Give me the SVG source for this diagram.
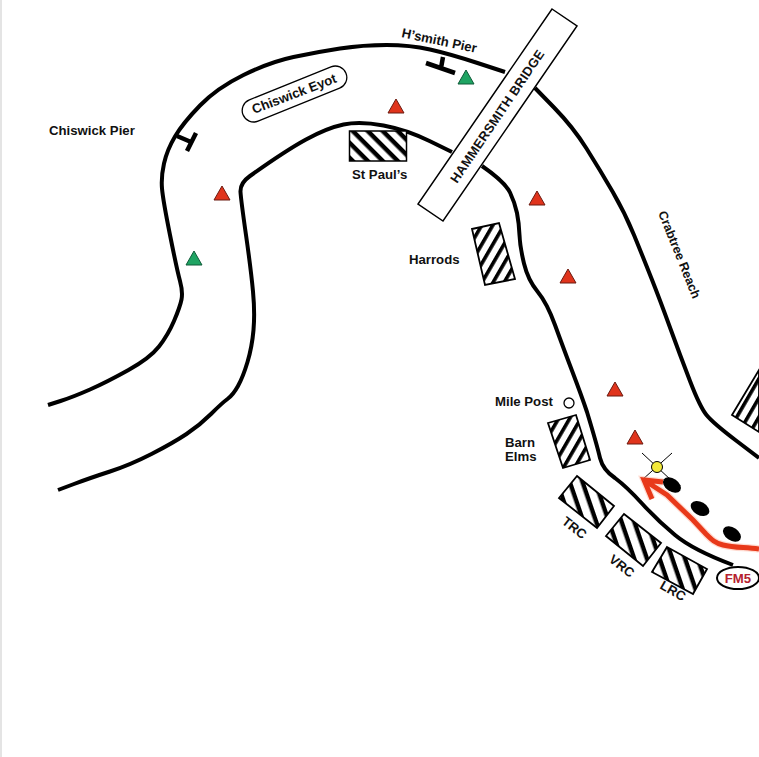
<svg xmlns="http://www.w3.org/2000/svg" width="759" height="757" viewBox="0 0 759 757">
<style>
text{font-family:"Liberation Sans",Arial,sans-serif;font-weight:bold;font-size:13.2px;fill:#111}
.bank{fill:none;stroke:#000;stroke-width:4;stroke-linecap:butt;stroke-linejoin:round}
.red{fill:#e0341c;stroke:#6b1a10;stroke-width:1}
.green{fill:#1fa463;stroke:#0e5a38;stroke-width:1}
.t{stroke:#000;stroke-width:4.500;fill:none}
.b{stroke:#000;stroke-width:1.8}
</style>
<defs>
<pattern id="h1" width="10.6" height="10.6" patternUnits="userSpaceOnUse" patternTransform="rotate(45)"><rect width="10.6" height="10.6" fill="#fff"/><rect width="10.6" height="4.4" fill="#000"/></pattern>
<pattern id="h2" width="9.6" height="9.6" patternUnits="userSpaceOnUse" patternTransform="rotate(-60)"><rect width="9.6" height="9.6" fill="#fff"/><rect width="9.6" height="3.6" fill="#000"/></pattern>
<pattern id="h3" width="12" height="12" patternUnits="userSpaceOnUse" patternTransform="rotate(71)"><rect width="12" height="12" fill="#fff"/><rect width="12" height="4.4" fill="#000"/></pattern>
</defs>
<rect width="759" height="757" fill="#fff"/>
<rect width="2" height="757" fill="#e4e4e4"/>
<g id="connectors">
<path class="bank" d="M48 405L60.500 401Q73 397 90 389.500Q107 382 128.500 370Q150 358 159 346.500Q168 335 174 321Q180 307 181.500 299.500Q183 292 180 281Q177 270 170 235Q163 200 162 188.500Q161 177 164 163.500Q167 150 175 136.500Q183 123 200 105.500Q217 88 243.500 75Q270 62 293.500 57Q317 52 340 48.500Q363 45 386.500 45Q410 45 430 49.500Q450 54 477.500 63L505 72"/>
<path class="bank" d="M535 88L554 107.500Q573 127 586.500 148.500Q600 170 612.500 191.500Q625 213 634 235Q643 257 651.500 278.500Q660 300 670 327.500Q680 355 690 381Q700 407 706.500 415Q713 423 736 440.500L759 458"/>
<path class="bank" d="M58 490L74 484Q90 478 110 471.500Q130 465 151.500 454Q173 443 186.500 434Q200 425 211 414Q222 403 227.500 399Q233 395 238 386Q243 377 247.500 362Q252 347 253.500 330Q255 313 253 291.500Q251 270 246 235Q241 200 240.500 192Q240 183 250 176Q285 151 306 139.500Q327 128 343.500 124.500Q360 121 383.500 125.500Q407 130 429.500 141L452 152"/>
<path class="bank" d="M482 166Q505 182 510 192.500Q515 203 517 213Q519 223 519.500 235Q520 247 524 263.500Q528 280 537.500 291.500Q547 303 555 325Q563 347 572.500 372Q582 397 587 412Q597 445 600 458Q603 470 615 478Q627 487 642 503.500Q657 520 675 535Q693 550 733 565"/>
</g>
<g id="bridge">
<polygon points="552,9 577,26 443,221 418,204" fill="#fff" stroke="#000" stroke-width="1.5"/>
<text transform="translate(457,184) rotate(-56)" textLength="157" style="font-size:13px">HAMMERSMITH BRIDGE</text>
</g>
<g id="chiswick-eyot">
<rect x="239" y="82.500" width="111" height="23" rx="11.500" transform="rotate(-22 294.500 94)" fill="#fff" stroke="#000" stroke-width="1.300"/>
<text transform="translate(254,114) rotate(-21)">Chiswick Eyot</text>
</g>
<g id="chiswick-pier"><text x="49" y="135">Chiswick Pier</text><path class="t" d="M196 133L187 151M177 136L191 142"/></g>
<g id="hsmith-pier"><text transform="translate(401,37) rotate(12)">H’smith Pier</text><path class="t" d="M426 63L455 73M443 57L441 68"/></g>
<g id="st-pauls"><rect x="349.500" y="131" width="57" height="30" fill="url(#h1)" stroke="#000" stroke-width="1.500"/><text x="352" y="179">St Paul’s</text></g>
<g id="harrods"><polygon points="472,229 499,223 515,279 485,285" fill="url(#h2)" class="b"/><text x="409" y="264">Harrods</text></g>
<g id="crabtree-reach"><text transform="translate(658,213) rotate(68)" style="font-size:12.6px">Crabtree Reach</text></g>
<g id="mile-post"><text x="495" y="406">Mile Post</text><circle cx="569" cy="403" r="5" fill="#fff" stroke="#000" stroke-width="1.300"/></g>
<g id="barn-elms"><polygon points="548,423 576,415 590,460 563,468" fill="url(#h2)" class="b"/><text x="505" y="447">Barn</text><text x="505" y="461">Elms</text></g>
<g id="right-building"><polygon points="732,415 759,370 759,432" fill="url(#h2)" class="b"/></g>
<g id="trc"><polygon points="577,476 614,506 597,528 559,498" fill="url(#h3)" class="b"/><text transform="translate(561,523) rotate(38)">TRC</text></g>
<g id="vrc"><polygon points="624,514 661,543 643,566 606,536" fill="url(#h3)" class="b"/><text transform="translate(608,561) rotate(38)">VRC</text></g>
<g id="lrc"><polygon points="667,547 707,569 693,594 652,572" fill="url(#h3)" class="b"/><text transform="translate(659,588) rotate(30)">LRC</text></g>
<g id="markers">
<polygon class="red" points="396,99 404,113 388,113"/>
<polygon class="red" points="222,186 230,200 214,200"/>
<polygon class="red" points="537,191 545,205 529,205"/>
<polygon class="red" points="568,269 576,283 560,283"/>
<polygon class="red" points="615,382 623,396 607,396"/>
<polygon class="red" points="635,430 643,444 627,444"/>
<polygon class="green" points="466,70 474,84 458,84"/>
<polygon class="green" points="194,251 202,265 186,265"/>
</g>
<g id="start-buoy">
<path d="M642 453L672 481M672 453L642 480" stroke="#000" stroke-width="1"/>
<circle cx="657" cy="467" r="5.500" fill="#f2e93a" stroke="#000" stroke-width="1"/>
</g>
<g id="boats">
<ellipse cx="672" cy="485" rx="10" ry="6.500" transform="rotate(35 672 485)"/>
<ellipse cx="700" cy="508.500" rx="10" ry="6.500" transform="rotate(30 700 508.500)"/>
<ellipse cx="732" cy="534" rx="10" ry="6.500" transform="rotate(35 732 534)"/>
</g>
<g id="course-arrow" fill="none">
<path d="M759 549C745 547 735 548 723 545C715 543 712 540 706 534L693 520L667 495L647 482M663 482L644 480L652 499" stroke="#ffb09a" stroke-width="7.500" stroke-opacity=".45"/>
<path d="M759 549C745 547 735 548 723 545C715 543 712 540 706 534L693 520L667 495L647 482M663 482L644 480L652 499" stroke="#e8391a" stroke-width="5"/>
</g>
<g id="fm5"><ellipse cx="738" cy="578" rx="21" ry="11" fill="#fff" stroke="#000" stroke-width="2"/><text x="738" y="583" text-anchor="middle" style="fill:#b5202f">FM5</text></g>
</svg>
